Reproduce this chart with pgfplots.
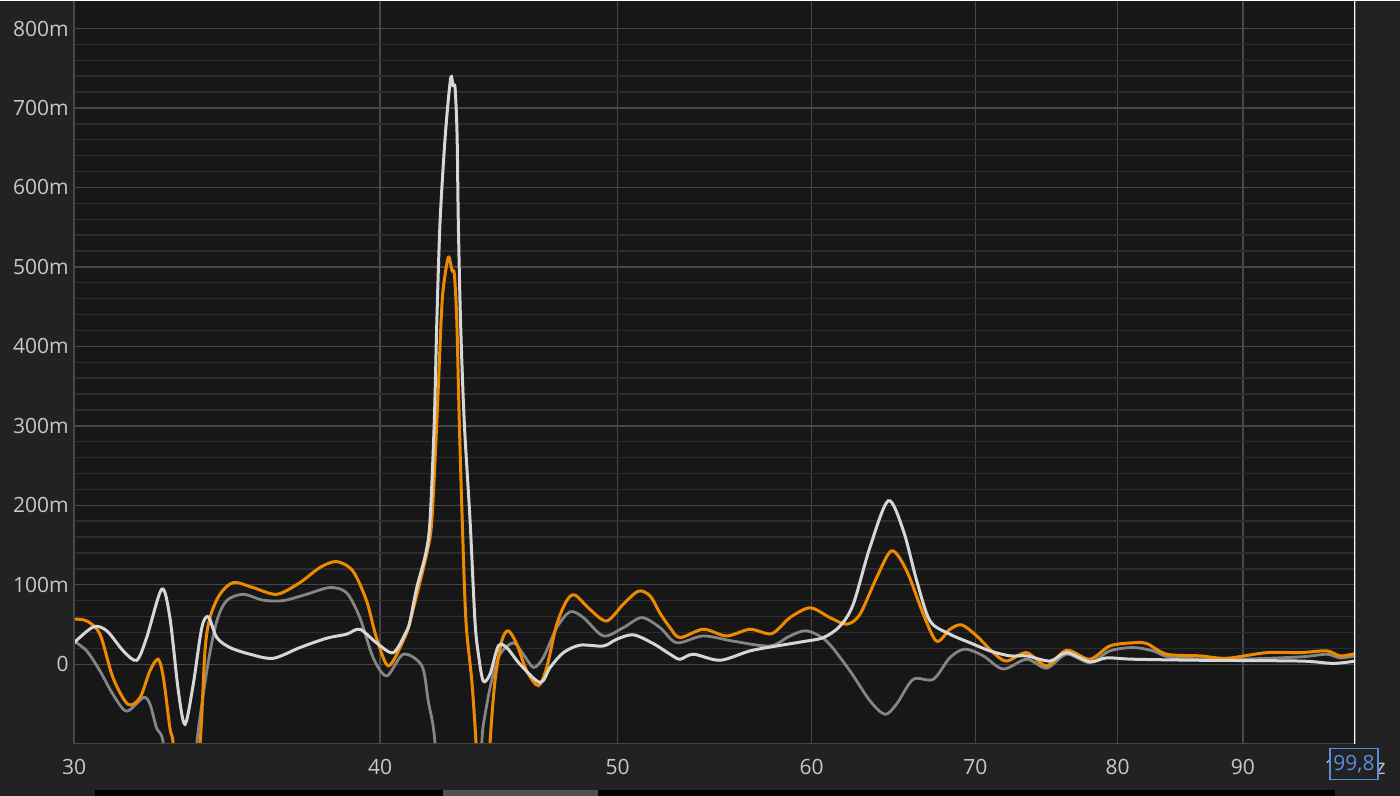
\documentclass[border=0pt]{standalone}
\usepackage{fontspec}
\setmainfont{Open Sans}
\usepackage{pgfplots}
\pgfplotsset{compat=1.18}

\definecolor{outerbg}{HTML}{222222}
\definecolor{plotbg}{HTML}{171717}
\definecolor{gridmaj}{HTML}{474747}
\definecolor{gridmin}{HTML}{2C2C2C}
\definecolor{labelgray}{HTML}{C8C8C8}
\definecolor{traceorange}{HTML}{EE8A00}
\definecolor{tracelight}{HTML}{D6D6D6}
\definecolor{tracedark}{HTML}{858585}
\definecolor{cursorblue}{HTML}{5B8DDF}
\definecolor{scrollgray}{HTML}{505050}

\begin{document}
\begin{tikzpicture}
% 1 px of the screenshot = 0.5pt
\fill[outerbg] (-37pt,-26pt) rectangle (663pt,371.5pt);
\fill[black] (10.5pt,-26pt) rectangle (630.5pt,-23pt);
\fill[scrollgray] (184.5pt,-26pt) rectangle (262pt,-23pt);

\begin{axis}[
    at={(0,0)}, anchor=south west,
    scale only axis,
    width=640.5pt, height=371.5pt,
    xmode=log,
    xmin=30, xmax=100,
    ymin=-100, ymax=835,
    axis background/.style={fill=plotbg},
    axis line style={draw=none},
    xtick={30,40,50,60,70,80,90,100},
    xticklabels={30,40,50,60,70,80,90,100Hz},
    minor xtick={},
    ytick={0,100,200,300,400,500,600,700,800},
    yticklabels={0,100m,200m,300m,400m,500m,600m,700m,800m},
    minor y tick num=4,
    major tick length=0pt, minor tick length=0pt,
    xmajorgrids=true, ymajorgrids=true, yminorgrids=true,
    major grid style={gridmaj, line width=0.7pt},
    minor grid style={gridmin, line width=0.7pt},
    tick label style={font=\fontsize{10.5}{12}\selectfont, text=labelgray},
    yticklabel style={anchor=east, inner sep=0pt, xshift=-2.5pt},
    xticklabel style={anchor=center, inner sep=0pt, yshift=-11.5pt},
    clip=true,
]

% darker gray trace
\addplot[tracedark, line width=1.4pt, smooth, tension=0.5] coordinates {
(30.00,29) (30.36,16.8) (30.74,-8.4) (31.12,-38) (31.52,-59) (32.02,-42)
(32.22,-50) (32.42,-80) (32.63,-100) (32.83,-200) (33.52,-200) (33.65,-110)
(33.77,-67) (34.04,4) (34.31,54.5) (34.63,80) (35.17,88) (35.84,80.6)
(36.52,80) (37.33,88) (38.16,96.5) (38.76,90) (39.25,58.7) (39.75,8)
(40.25,-14.7) (40.88,12.6) (41.60,-2) (41.85,-46) (42.12,-100) (42.32,-250)
(43.86,-250) (44.01,-100) (44.15,-63) (44.42,-21) (44.77,12.6) (45.34,27)
(45.76,12.6) (46.20,-4) (46.63,8.4) (47.22,46) (47.82,66) (48.42,58.7)
(49.34,35.6) (50.27,46) (51.15,58.7) (52.04,46) (52.86,27) (54.20,35.6)
(55.75,29) (57.70,23) (58.80,35.6) (59.73,42) (60.86,29) (62.21,-8.4)
(63.39,-46) (64.29,-63) (65.00,-50) (66.02,-19) (67.28,-19) (68.34,8.4)
(69.31,19) (70.51,10.5) (71.85,-6) (73.45,6.3) (74.84,-5) (76.26,12.6)
(77.95,2) (79.43,16.8) (81.17,21) (82.71,16.8) (84.28,8.4) (89.16,6.3)
(94.96,9.2) (97.37,12.6) (98.60,8) (100,10.5)
};

% orange trace
\addplot[traceorange, line width=1.5pt, smooth, tension=0.5] coordinates {
(30.00,56.7) (30.36,54.5) (30.74,37.8) (31.12,-16.9) (31.56,-50.4) (31.92,-42)
(32.22,-8.4) (32.47,6.3) (32.63,-17) (32.83,-80) (32.93,-100) (33.09,-190)
(33.46,-190) (33.77,-100) (33.93,16.8) (34.09,58.7) (34.41,88) (34.85,102.8)
(35.50,96.5) (36.30,88) (37.10,102.8) (37.80,121.7) (38.40,129.2) (38.99,117.5)
(39.50,79.7) (39.87,33.5) (40.31,-2) (40.87,29) (41.14,54) (41.79,139)
(41.99,180) (42.19,306) (42.36,432) (42.45,474) (42.65,512) (42.80,495)
(42.89,491) (42.99,432) (43.09,306) (43.21,180) (43.36,54)
(43.60,-21) (43.77,-97) (43.94,-200) (44.19,-200) (44.35,-100) (44.56,-21)
(44.84,29) (45.12,42) (45.48,25.5) (45.91,-8.4) (46.41,-27) (46.78,-4)
(47.22,50) (47.67,80) (48.04,87) (48.72,69) (49.49,54.5) (50.27,75.5)
(50.99,92) (51.55,86) (52.04,64) (52.53,46) (53.02,33.5)
(54.20,44) (55.40,35.6) (56.63,44) (57.80,38.5) (58.80,58.7) (59.92,71)
(61.05,58.7) (62.02,50.4) (62.80,63) (63.79,109) (64.70,142.7) (65.62,117.5)
(66.65,63) (67.49,29) (68.34,44) (69.10,49.5) (70.08,35.6) (71.18,14.6)
(72.08,4) (73.45,14.6) (74.84,-2) (76.26,17.6) (77.95,6.3) (79.43,23)
(81.17,27) (82.22,26) (83.78,12.6) (86.44,10.5) (88.64,7.5) (92.03,14.6)
(94.96,14.6) (97.37,16.8) (98.60,10.5) (100,13.4)
};

% light gray trace
\addplot[tracelight, line width=1.5pt, smooth, tension=0.5] coordinates {
(30.00,27) (30.55,47) (30.94,42) (31.42,16.8) (31.82,5) (32.12,33.5)
(32.58,94.5) (32.83,58.7) (33.09,-33.6) (33.30,-75.6) (33.56,-25) (33.83,46)
(34.04,59.6) (34.31,33.5) (34.74,21) (35.40,12.6) (36.18,7.5) (37.10,21)
(38.04,32.7) (38.76,37.8) (39.25,44) (39.87,27) (40.50,14.6) (41.01,42)
(41.14,54) (41.40,96) (41.75,139) (41.92,180) (42.09,306) (42.19,432)
(42.32,558) (42.53,667) (42.74,737) (42.84,728) (42.92,725) (43.00,667)
(43.05,558) (43.14,432) (43.29,306) (43.53,180) (43.73,54)
(43.87,12.6) (44.07,-21) (44.35,-12.6) (44.70,23) (45.05,21)
(45.62,0) (46.49,-23) (46.93,-4) (47.52,14.6) (48.27,24) (49.34,23)
(49.96,31.5) (50.75,37) (51.71,26) (52.53,12.6) (53.02,6.3) (53.69,12.6)
(55.06,5) (56.63,16.8) (58.07,23) (59.54,28.5) (60.67,33.5) (61.63,48)
(62.40,75.5) (63.39,147) (64.49,205.7) (65.41,168) (66.24,105) (67.07,54.5)
(68.34,37.8) (69.64,27) (70.96,16.8) (72.31,10.5) (73.45,10.5) (75.08,4)
(76.26,14.6) (77.95,3) (79.18,8) (81.19,6.3) (86.44,5) (94.96,4)
(97.95,1) (100,4)
};

% plot frame and cursor
\draw[gridmaj, line width=0.8pt] (rel axis cs:0,1) -- (rel axis cs:0,0) -- (rel axis cs:1,0);
\draw[white, line width=0.8pt] (rel axis cs:1,0) -- (rel axis cs:1,1);
\end{axis}

% cursor readout box
\node[draw=cursorblue, line width=0.7pt, fill=outerbg, text=cursorblue,
      minimum width=24pt, minimum height=15.5pt, inner sep=0pt,
      font=\fontsize{10.5}{12}\selectfont] at (640pt,-10.25pt) {99,8};
\end{tikzpicture}
\end{document}
